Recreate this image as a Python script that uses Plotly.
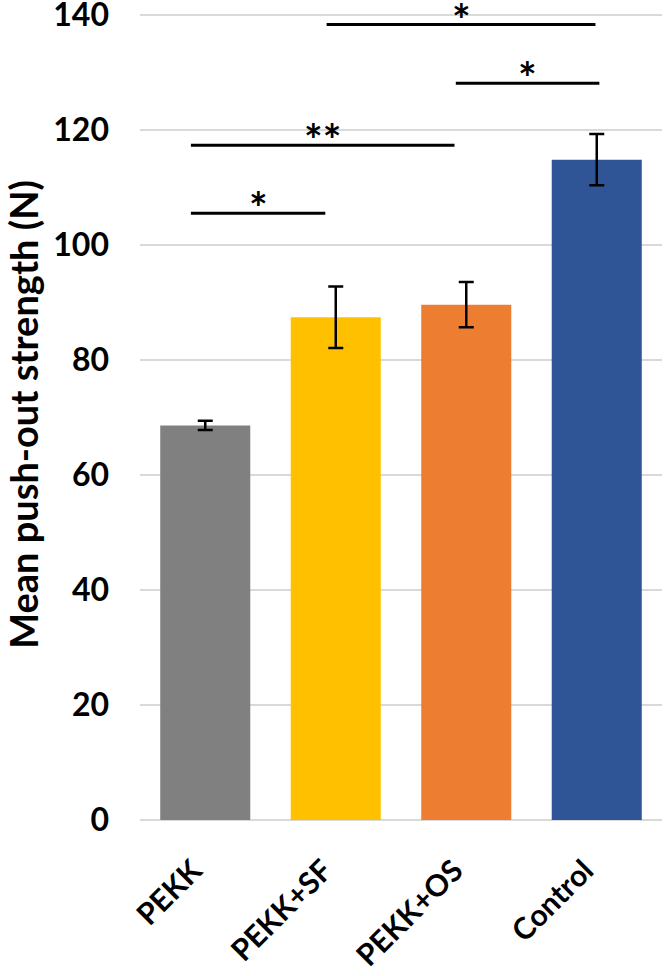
import plotly.graph_objects as go

categories = ["PEKK", "PEKK+SF", "PEKK+OS", "Control"]
means = [68.6, 87.4, 89.6, 114.8]
errors = [0.8, 5.35, 3.95, 4.45]
colors = ["#808080", "#FFC000", "#ED7D31", "#2F5597"]

# significance brackets: start index, end index, height (N), label
sig_start = [0.93, 1.92, -0.11, -0.11]
sig_end = [2.99, 3.02, 1.91, 0.92]
sig_height = [138.3, 128.1, 117.3, 105.5]
sig_label = ["*", "*", "**", "*"]

y_ticks = [0, 20, 40, 60, 80, 100, 120, 140]

FONT = "Lato"

fig = go.Figure()
fig.add_trace(go.Bar(
    x=categories, y=means,
    marker=dict(color=colors, line=dict(width=0)),
    error_y=dict(type="data", array=errors, visible=True,
                 color="black", thickness=2.5, width=7.5),
    width=0.69,
))

for s, e, h, lab in zip(sig_start, sig_end, sig_height, sig_label):
    fig.add_shape(type="line", xref="x", yref="y", x0=s, x1=e, y0=h, y1=h,
                  line=dict(color="black", width=3))
    fig.add_annotation(x=(s + e) / 2, y=h, xref="x", yref="y", text=lab,
                       showarrow=False, yanchor="bottom", yshift=-22,
                       font=dict(family=FONT, size=44, color="black",
                                 weight="bold"))

fig.update_layout(
    width=666, height=976, autosize=False,
    margin=dict(l=140, r=4, t=9, b=156),
    plot_bgcolor="white", paper_bgcolor="white",
    showlegend=False,
    font=dict(family=FONT, color="black"),
    bargap=0.31,
)
fig.update_xaxes(
    range=[-0.5, 3.5], tickangle=-45, showgrid=False, showline=False,
    ticks="", automargin=False,
    tickfont=dict(family=FONT, size=30, color="black", weight="bold"),
    ticklabelstandoff=26, ticklabelshift=-12,
)
fig.update_yaxes(
    range=[0, 141], tickvals=y_ticks, showgrid=True, gridcolor="#d9d9d9",
    gridwidth=2, zeroline=True, zerolinecolor="#d9d9d9", zerolinewidth=2,
    showline=False, ticks="", automargin=False, ticklabeloverflow="allow",
    tickfont=dict(family=FONT, size=32, color="black", weight="bold"),
    ticklabelstandoff=30,
    title=dict(text="Mean push-out strength (N)", standoff=8,
               font=dict(family=FONT, size=38, color="black", weight="bold")),
)

fig.write_html("out.html",
               config={"displayModeBar": False},
               post_script="document.body.style.margin='0';"
                           "document.body.style.overflow='hidden';")
